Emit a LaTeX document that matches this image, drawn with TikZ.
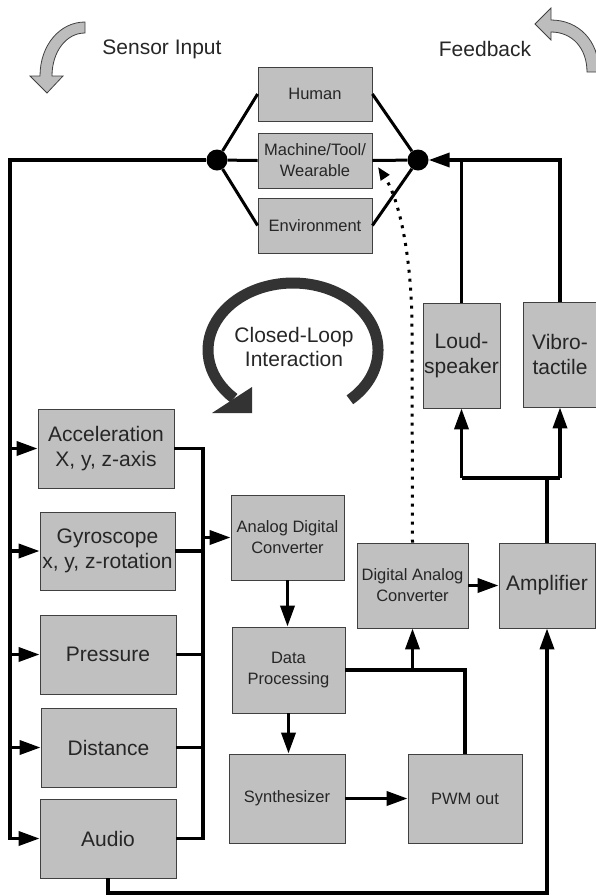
\documentclass[tikz,border=0pt]{standalone}
\usepackage{fontspec}
\setmainfont{Liberation Sans}
\usetikzlibrary{arrows.meta,calc}
\definecolor{boxgray}{HTML}{C0C0C0}
\definecolor{edgegray}{HTML}{404040}
\definecolor{txt}{HTML}{262626}
\definecolor{ringc}{HTML}{333333}
\definecolor{arrgray}{HTML}{BDBDBD}
\newcommand\ftS{\fontsize{16.5}{21}\selectfont}
\newcommand\ftL{\fontsize{21}{25.5}\selectfont}
\newcommand\ftC{\fontsize{21}{24}\selectfont}
\tikzset{
  box/.style={draw=edgegray, line width=0.8pt, fill=boxgray, inner sep=0pt, align=center, text=txt},
  sbox/.style={box, font=\ftS},
  lbox/.style={box, font=\ftL},
  conn/.style={line width=3.6pt},
  thinconn/.style={line width=3pt},
  arr/.style={conn, -{Triangle[length=21pt,width=14pt]}},
  dotarrow/.style={line width=3pt, dash pattern=on 3pt off 6pt, -{Triangle[length=13pt,width=10pt]}},
  dotn/.style={circle, fill=black, inner sep=0pt, minimum size=21pt},
  lbl/.style={text=txt, font=\ftL},
  grayarrow/.style={fill=arrgray, draw=edgegray, line width=0.8pt},
}
\begin{document}
\begin{tikzpicture}[x=1pt,y=-1pt]
\useasboundingbox (0,0) rectangle (596,895);
\clip (0,0) rectangle (596,895);

% curved gray arrows and labels
\filldraw[grayarrow] (85,22) -- (85,33) .. controls (66,33) and (52,52) .. (52,76)
  -- (63,76) -- (47,93) -- (30,76) -- (40,76) .. controls (40,45) and (60,22) .. (85,22) -- cycle;
\filldraw[grayarrow] (551,8) -- (535,24) -- (551,40) -- (551,32) .. controls (572,32) and (587,48) .. (587,72)
  -- (599,72) .. controls (599,40) and (578,20) .. (551,20) -- cycle;
\node[lbl] (sensorlbl) at (162,49) {Sensor Input};
\node[lbl] (fblbl) at (485,49) {Feedback};

% closed loop ring
\draw[ringc, line width=11pt] (349.9,399.8) arc[start angle=48, end angle=-226, x radius=85, y radius=67];
\fill[ringc] (212,413) -- (252,413) -- (252,387) -- cycle;
\node[text=txt, font=\ftC, align=center] (cl) at (294,347) {Closed-Loop\\Interaction};

% boxes
\node[sbox, minimum width=114pt, minimum height=54pt] (human) at (315,94) {Human};
\node[sbox, minimum width=114pt, minimum height=55pt] (machine) at (315,160.5) {Machine/Tool/\\Wearable};
\node[sbox, minimum width=114pt, minimum height=55pt] (env) at (315,225.5) {Environment};

\node[lbox, minimum width=136pt, minimum height=79pt] (acc) at (106,448.5) {Acceleration\\X, y, z-axis};
\node[lbox, minimum width=135pt, minimum height=78pt] (gyro) at (107.5,551) {Gyroscope\\x, y, z-rotation};
\node[lbox, minimum width=136pt, minimum height=79pt] (press) at (108,654.5) {Pressure};
\node[lbox, minimum width=135pt, minimum height=79pt] (dist) at (108.5,747.5) {Distance};
\node[lbox, minimum width=136pt, minimum height=79pt] (audio) at (108,838.5) {Audio};

\node[sbox, minimum width=113pt, minimum height=85pt] (adc) at (287.5,537.5) {Analog Digital\\Converter};
\node[sbox, minimum width=113pt, minimum height=86pt] (dp) at (288.5,670) {Data\\Processing};
\node[sbox, minimum width=116pt, minimum height=89pt] (synth) at (287,798.5) {Synthesizer};
\node[sbox, minimum width=114pt, minimum height=89pt] (pwm) at (465,798.5) {PWM out};
\node[sbox, minimum width=111pt, minimum height=85pt] (dac) at (412.5,585.5) {Digital Analog\\Converter};
\node[lbox, minimum width=96pt, minimum height=85pt] (amp) at (547,585.5) {Amplifier};
\node[lbox, minimum width=77pt, minimum height=105pt] (loud) at (461.5,355.5) {Loud-\\speaker};
\node[lbox, minimum width=74pt, minimum height=105pt] (vibro) at (560,354.5) {Vibro-\\tactile};

% junction dots and helper coordinates
\node[dotn] (ldot) at (217,160) {};
\node[dotn] (rdot) at (418,160) {};
\coordinate (lc) at (10,160);
\coordinate (bus) at (203,0);
\coordinate (bot) at (0,893);
\coordinate (split) at (548,478);
\coordinate (dtip) at (378,167);

% object group connections
\draw[thinconn] (ldot) -- (human.west);
\draw[thinconn] (ldot) -- (machine.west);
\draw[thinconn] (ldot) -- (env.west);
\draw[thinconn] (rdot) -- (human.east);
\draw[thinconn] (rdot) -- (machine.east);
\draw[thinconn] (rdot) -- (env.east);

% sensor input bus
\draw[arr] (ldot) -- (lc) |- (audio.west);
\foreach \n in {acc,gyro,press,dist} \draw[arr] (lc |- \n.west) -- (\n.west);
\draw[conn] (acc.east) -| (bus |- audio.east) -- (audio.east);
\foreach \n in {gyro,press,dist} \draw[conn] (\n.east) -- (bus |- \n.east);
\draw[arr] (bus |- adc.west) -- (adc.west);

% processing chain
\draw[arr] (adc.south) -- (adc.south |- dp.north);
\draw[arr] (dp.south) -- (dp.south |- synth.north);
\draw[arr] (synth.east) -- (pwm.west);
\draw[conn] (pwm.north) |- (dp.east);
\draw[arr] (dac.south |- dp.east) -- (dac.south);
\draw[arr] (dac.east) -- (amp.west);
\draw[arr] (audio.south) -- (audio.south |- bot) -| (amp.south);

% output actuators
\draw[conn] (amp.north) -- (amp.north |- split);
\draw[conn] (loud.south |- split) -- (vibro.south |- split);
\draw[arr] (loud.south |- split) -- (loud.south);
\draw[arr] (vibro.south |- split) -- (vibro.south);
\draw[conn] (loud.north) -- (loud.north |- rdot);
\draw[arr] (vibro.north) |- (rdot);

% dotted feedback
\draw[dotarrow] (dac.north) -- (412,330) .. controls (412,260) and (400,200) .. (dtip);
\end{tikzpicture}
\end{document}
